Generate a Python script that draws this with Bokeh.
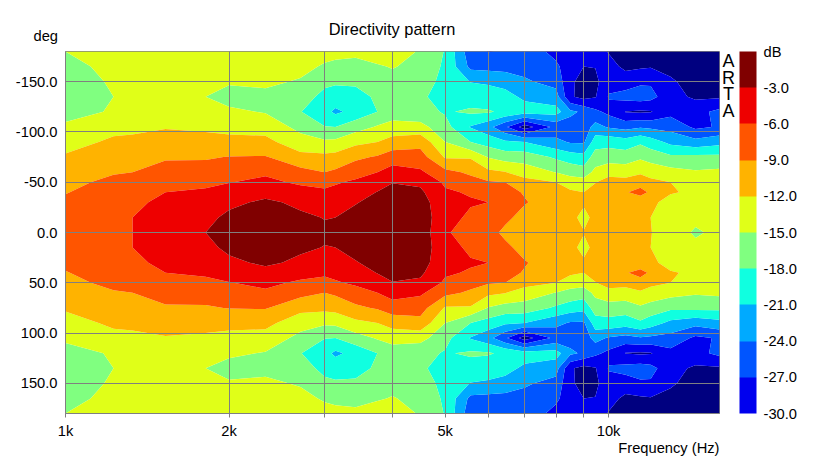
import numpy as np
from bokeh.embed import file_html
from bokeh.resources import INLINE
from bokeh.plotting import figure
from bokeh.models import (Range1d, FixedTicker, Label, ColorBar, LinearColorMapper,
                          CustomJSTickFormatter, AllLabels)

FONT = "Liberation Sans"
TXT = "14.7px"

freqs = [1000, 1226, 1329, 1528, 1811, 2000, 2334, 2707, 3000, 3140, 3420, 3752, 4000, 4500, 5000,
         5570, 6000, 6450, 7000, 8000, 8500, 9000, 9450, 10000, 10740, 11440, 11950, 13000, 14450, 16000]
angles_top = [-180, -165, -150, -135, -120, -105, -90, -75, -60, -50, -40, -30, -15, 0]

c01 = [-15, -16, -16.5, -16.5, -16, -14.5, -13, -11.7, -10.5, -9.6, -9.1, -8.6, -8, -7.7]
c02 = [-13.5, -14, -14.6, -15, -14.7, -12.8, -11.5, -10.5, -9.2, -8.4, -7.9, -7.4, -6.8, -6.5]
c03 = [-13, -13.5, -13.8, -14, -13.8, -12.7, -11.3, -10.3, -9, -8, -7.2, -6.6, -6, -6]
c04 = [-12.8, -13, -13.2, -13.5, -13.3, -12.2, -10.8, -9.3, -8, -7, -6, -5.3, -4.5, -4]
c05 = [-13, -13.6, -14.3, -15, -14, -12.5, -11, -9.3, -7.7, -6.6, -5.6, -4.8, -3.7, -3]
c06 = [-12.5, -13.5, -14.7, -16, -14.5, -12.8, -11.2, -8.9, -7.2, -6.1, -4.7, -3.6, -2.4, -2]
c07 = [-12.2, -13.2, -14.3, -15.9, -15.2, -13, -11.3, -8.8, -6.5, -5.3, -3.9, -2.5, -1.6, -1.2]
c08 = [-13, -13.8, -15.4, -16.8, -17.9, -16, -13.6, -11.2, -8, -6.5, -4.8, -3.6, -2.5, -2]
c09 = [-13.5, -15.5, -17.4, -18.8, -20, -17.9, -14.5, -11.2, -9, -6.7, -5.6, -4.7, -3.1, -2.5]
c10 = [-13.9, -15.9, -17.6, -19.3, -21.6, -18, -14.3, -11, -8.5, -6.3, -5.2, -4.2, -3, -2]
c11 = [-14.3, -16, -17.3, -19.5, -20, -16.3, -12.7, -9.6, -7.2, -5.5, -4.2, -3.2, -2, -1.5]
c12 = [-13.6, -15.3, -16, -17.3, -18, -14.7, -12, -8.7, -6, -4.2, -2.9, -2, -1.2, -1]
c13 = [-14, -14.8, -16, -16.8, -16.5, -13.9, -10.8, -7.5, -4.7, -3.1, -2.2, -1.6, -1, -0.8]
c14 = [-15.2, -16, -16.5, -17.3, -17, -14, -10, -7.8, -5.5, -3.5, -2.5, -1.7, -1.5, -1.3]
c15 = [-18.2, -18.5, -19, -19.8, -18.3, -17, -15, -12.3, -8.2, -6.5, -5.6, -5.2, -4.8, -5.6]
c16 = [-26, -24.8, -21.1, -19.5, -17.5, -21.2, -18, -12.3, -9.5, -8, -6.3, -5.7, -6.6, -7.5]
c17 = [-27.1, -25, -21.4, -19.6, -17.7, -23, -19.3, -15.2, -11.3, -8.7, -7.4, -6, -7.5, -8.2]
c18 = [-26.8, -25.1, -22, -20, -18.6, -26.5, -20.5, -16.3, -11.9, -9, -8.2, -7.5, -8.5, -9.5]
c19 = [-25.5, -25, -23.6, -21.6, -19.6, -31.5, -21, -16.3, -13.4, -10.9, -9.2, -8.8, -9.8, -10.5]
c20 = [-27.8, -26.5, -25, -22.8, -19.8, -26, -23.2, -18.5, -15.1, -12, -11, -10.5, -10.5, -10.8]
c21 = [-28, -28.5, -29.5, -29.6, -23.3, -25.5, -24.3, -19.5, -16, -13.5, -11.5, -11, -11, -11]
c22 = [-28.5, -30, -31, -31, -24.6, -25.5, -24.4, -20, -16.6, -13.7, -12, -11.5, -13, -11.8]
c23 = [-28.5, -29.9, -30.8, -30.2, -26.3, -23, -19.4, -16.6, -14.2, -12.1, -11, -10.8, -11, -11]
c24 = [-30.2, -28.9, -27.8, -26.8, -27.8, -24.3, -19, -16.5, -12.8, -11, -10.8, -10.8, -10.8, -10.8]
c25 = [-31, -30.7, -28.3, -26, -30.1, -25, -19.7, -16.5, -13.3, -11, -9.2, -10.8, -11, -11]
c26 = [-31.5, -30.4, -27.5, -25.5, -30.4, -24.3, -18.5, -15.5, -12.5, -10, -8.2, -10.5, -11.3, -11.3]
c27 = [-31.5, -30.2, -27.4, -26, -30.2, -24.6, -19.6, -16.2, -13.2, -11.2, -9.4, -11.5, -12, -11.9]
c28 = [-32, -31, -29.5, -29, -28, -25, -21.8, -17.4, -13.9, -12, -11.8, -12.8, -13.5, -13.5]
c29 = [-32, -32, -31.5, -30.5, -28, -27.6, -23, -17.2, -14.7, -13.5, -12.4, -13.8, -14.3, -15.4]
c30 = [-32.5, -32, -31.8, -30.4, -26.2, -26.7, -22, -17.3, -14.3, -14, -13.5, -13.7, -14, -14.3]

levels = [-40, -30, -27, -24, -21, -18, -15, -12, -9, -6, -3, 0]
colors = ["#000080", "#0000ee", "#0055ff", "#00aaff", "#10ffe0", "#80ff80",
          "#e0ff18", "#ffb300", "#ff5500", "#ee0000", "#800000"]
x_ticks = [1000, 2000, 3000, 4000, 5000, 6000, 7000, 8000, 9000, 10000]
x_labels = {1000: "1k", 2000: "2k", 5000: "5k", 10000: "10k"}
y_ticks = [-150, -100, -50, 0, 50, 100, 150]
bar_ticks = [-3, -6, -9, -12, -15, -18, -21, -24, -27, -30]

top = np.array([c01, c02, c03, c04, c05, c06, c07, c08, c09, c10, c11, c12, c13, c14, c15,
                c16, c17, c18, c19, c20, c21, c22, c23, c24, c25, c26, c27, c28, c29, c30]).T
z = np.vstack([top, top[-2::-1]])
angles = np.array(angles_top + [-a for a in angles_top[-2::-1]], dtype=float)

p = figure(width=819, height=464, output_backend="svg", toolbar_location=None,
           x_axis_type="log", x_range=Range1d(1000, 16000), y_range=Range1d(180, -180),
           min_border_left=65, min_border_right=100, min_border_top=51, min_border_bottom=51,
           background_fill_color="white", border_fill_color="white")

p.contour(np.array(freqs, dtype=float), angles, z, levels, fill_color=colors)

p.outline_line_color = "#808080"
p.outline_line_width = 1

for g in (p.xgrid, p.ygrid):
    g.grid_line_color = "#808080"
    g.grid_line_width = 1
    g.level = "overlay"
    g.minor_grid_line_color = None

p.xaxis.ticker = FixedTicker(ticks=x_ticks)
p.xaxis.major_label_overrides = {t: x_labels.get(t, "") for t in x_ticks}
p.xaxis.major_tick_out = 4
p.xaxis.major_tick_in = 0
p.xaxis.minor_tick_line_color = None
p.xaxis.axis_line_color = "#808080"
p.xaxis.major_tick_line_color = "#808080"
p.xaxis.major_label_standoff = 5
p.yaxis.ticker = FixedTicker(ticks=y_ticks)
p.yaxis.major_label_overrides = {t: f"{t:.1f}" for t in y_ticks}
p.yaxis.major_tick_out = 0
p.yaxis.major_tick_in = 0
p.yaxis.minor_tick_line_color = None
p.yaxis.axis_line_color = "#808080"
p.yaxis.major_label_standoff = 8
for ax in (p.xaxis, p.yaxis):
    ax.major_label_text_font = FONT
    ax.major_label_text_font_size = TXT
    ax.major_label_text_color = "black"

mapper = LinearColorMapper(palette=colors[1:], low=-30, high=0)
bar = ColorBar(color_mapper=mapper, ticker=FixedTicker(ticks=bar_ticks),
               formatter=CustomJSTickFormatter(code="return tick.toFixed(1)"),
               major_label_policy=AllLabels(),
               width=17, height=362, padding=0, margin=0, location=(20, 0),
               major_tick_line_color=None, minor_tick_line_color=None, bar_line_color=None,
               border_line_color=None, background_fill_color=None, label_standoff=7,
               major_label_text_font=FONT, major_label_text_font_size=TXT,
               major_label_text_color="black")
p.add_layout(bar, "right")

def lab(x, y, t, size=TXT, align="left", side="above", **kw):
    p.add_layout(Label(x=x, y=y, x_units="canvas", y_units="canvas", text=t,
                       text_font=FONT, text_font_size=size, text_color="black",
                       text_align=align, text_baseline="middle", **kw), side)

lab(391.5, 28, "Directivity pattern", size="16.4px", align="center")
lab(33, 35, "deg")
lab(763, 51, "dB", side="above", text_line_height=0.5)
lab(719, 447, "Frequency (Hz)", align="right", side="below")
lab(728, 85.5, "A\nR\nT\nA", size="18px", align="center", side="right", text_line_height=0.83)

open("out.html", "w").write(file_html(p, INLINE))
